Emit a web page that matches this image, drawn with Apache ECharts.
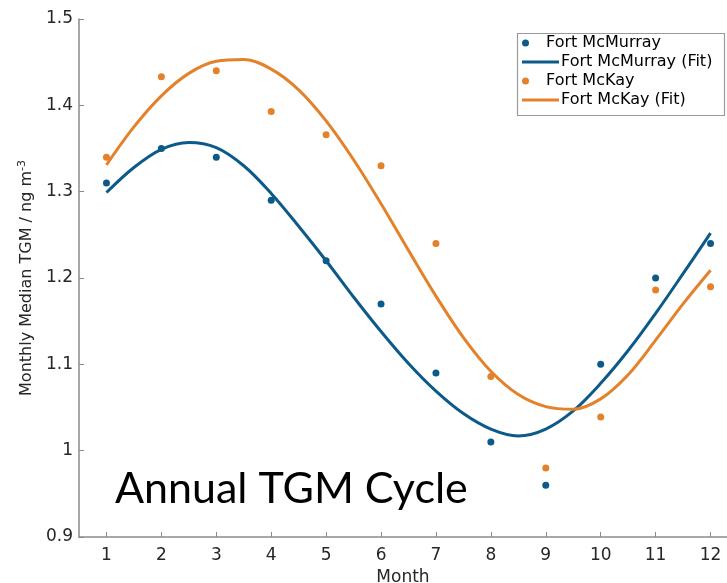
<!DOCTYPE html>
<html>
<head>
<meta charset="utf-8">
<script src="https://cdn.jsdelivr.net/npm/echarts@6/dist/echarts.min.js"></script>
<style>html,body{margin:0;padding:0;background:#fff}#c{width:727px;height:583px}</style>
</head>
<body>
<div id="c"></div>
<script>
// ---- data ----
const months = [1, 2, 3, 4, 5, 6, 7, 8, 9, 10, 11, 12];
const mcmurray = [1.31, 1.35, 1.34, 1.29, 1.22, 1.17, 1.09, 1.01, 0.96, 1.10, 1.20, 1.24];
const mckay = [1.34, 1.433, 1.44, 1.393, 1.366, 1.33, 1.24, 1.086, 0.98, 1.039, 1.186, 1.19];
const fitMonths = [1, 1.5, 2, 2.5, 3, 3.5, 4, 4.5, 5, 5.5, 6, 6.5, 7, 7.5, 8, 8.5, 9, 9.5, 10, 10.5, 11, 11.5, 12];
const fitMcMurray = [1.299, 1.328, 1.349, 1.357, 1.351, 1.330, 1.298, 1.260, 1.220, 1.178, 1.138, 1.101, 1.069, 1.043, 1.025, 1.017, 1.025, 1.046, 1.078, 1.116, 1.159, 1.205, 1.252];
const fitMcKay = [1.331, 1.375, 1.411, 1.437, 1.451, 1.453, 1.442, 1.418, 1.382, 1.337, 1.286, 1.232, 1.179, 1.131, 1.092, 1.065, 1.051, 1.048, 1.060, 1.088, 1.128, 1.170, 1.209];
const yTicks = [0.9, 1, 1.1, 1.2, 1.3, 1.4, 1.5];
const seriesNames = ['Fort McMurray', 'Fort McMurray (Fit)', 'Fort McKay', 'Fort McKay (Fit)'];
const title = 'Annual TGM Cycle';

const BLUE = '#0c5a8a';
const ORANGE = '#e3822a';
const AXIS = '#8a8a8a';
const TXT = '#262626';

const pair = (xs, ys) => xs.map((x, i) => [x, ys[i]]);

const chart = echarts.init(document.getElementById('c'), null, {renderer: 'canvas'});
const legendBase = {
  orient: 'vertical', left: 522, itemWidth: 37, itemGap: 0, padding: 0,
  textStyle: {fontFamily: 'DejaVu Sans', fontSize: 16, color: '#000', padding: [0, 0, 0, -3]},
  selectedMode: false
};
chart.setOption({
  animation: false,
  backgroundColor: '#fff',
  grid: {left: 79, top: 19, right: 0, bottom: 46, containLabel: false, outerBoundsMode: 'none'},
  xAxis: {
    type: 'value', min: 0.5, max: 12.3,
    name: 'Month', nameLocation: 'middle', nameGap: 32,
    nameTextStyle: {fontFamily: 'DejaVu Sans', fontSize: 17, color: TXT},
    axisLine: {lineStyle: {color: AXIS, width: 1.5}},
    axisTick: {inside: true, length: 5, lineStyle: {color: AXIS}, customValues: months},
    axisLabel: {customValues: months, fontFamily: 'DejaVu Sans', fontSize: 17, color: TXT, margin: 10},
    splitLine: {show: false}
  },
  yAxis: {
    type: 'value', min: 0.9, max: 1.5, interval: 0.1,
    name: 'Monthly Median TGM / ng m{sup|-3}', nameLocation: 'middle', nameGap: 36,
    nameTextStyle: {fontFamily: 'DejaVu Sans', fontSize: 16, color: TXT,
      rich: {sup: {fontFamily: 'DejaVu Sans', fontSize: 11, color: TXT, verticalAlign: 'top', padding: [0, 0, 10, 0]}}},
    axisLine: {show: true, lineStyle: {color: AXIS, width: 1.5}},
    axisTick: {show: true, inside: true, length: 5, lineStyle: {color: AXIS}, customValues: yTicks},
    axisLabel: {customValues: yTicks, fontFamily: 'DejaVu Sans', fontSize: 17, color: TXT, margin: 6},
    splitLine: {show: false}
  },
  legend: [
    Object.assign({}, legendBase, {top: 35, itemHeight: 7, data: [{name: seriesNames[0], icon: 'circle'}]}),
    Object.assign({}, legendBase, {top: 54, itemHeight: 3, data: [{name: seriesNames[1], icon: 'rect'}]}),
    Object.assign({}, legendBase, {top: 73, itemHeight: 7, data: [{name: seriesNames[2], icon: 'circle'}]}),
    Object.assign({}, legendBase, {top: 92, itemHeight: 3, data: [{name: seriesNames[3], icon: 'rect'}]})
  ],
  graphic: [
    {type: 'rect', left: 515, top: 31, shape: {width: 207, height: 82}, style: {fill: 'none', stroke: '#9a9a9a', lineWidth: 1.2}, z: 0},
    {type: 'text', left: 115, top: 468, style: {text: title, fontFamily: 'Lato', fontSize: 43, fill: '#000'}}
  ],
  series: [
    {name: seriesNames[0], type: 'scatter', data: pair(months, mcmurray), symbolSize: 7, itemStyle: {color: BLUE, opacity: 1}, z: 3},
    {name: seriesNames[1], type: 'line', data: pair(fitMonths, fitMcMurray), smooth: 0.35, symbol: 'none', showSymbol: false, lineStyle: {color: BLUE, width: 3}, itemStyle: {color: BLUE}, z: 2},
    {name: seriesNames[2], type: 'scatter', data: pair(months, mckay), symbolSize: 7, itemStyle: {color: ORANGE, opacity: 1}, z: 3},
    {name: seriesNames[3], type: 'line', data: pair(fitMonths, fitMcKay), smooth: 0.35, symbol: 'none', showSymbol: false, lineStyle: {color: ORANGE, width: 3}, itemStyle: {color: ORANGE}, z: 2}
  ]
});
</script>
</body>
</html>
